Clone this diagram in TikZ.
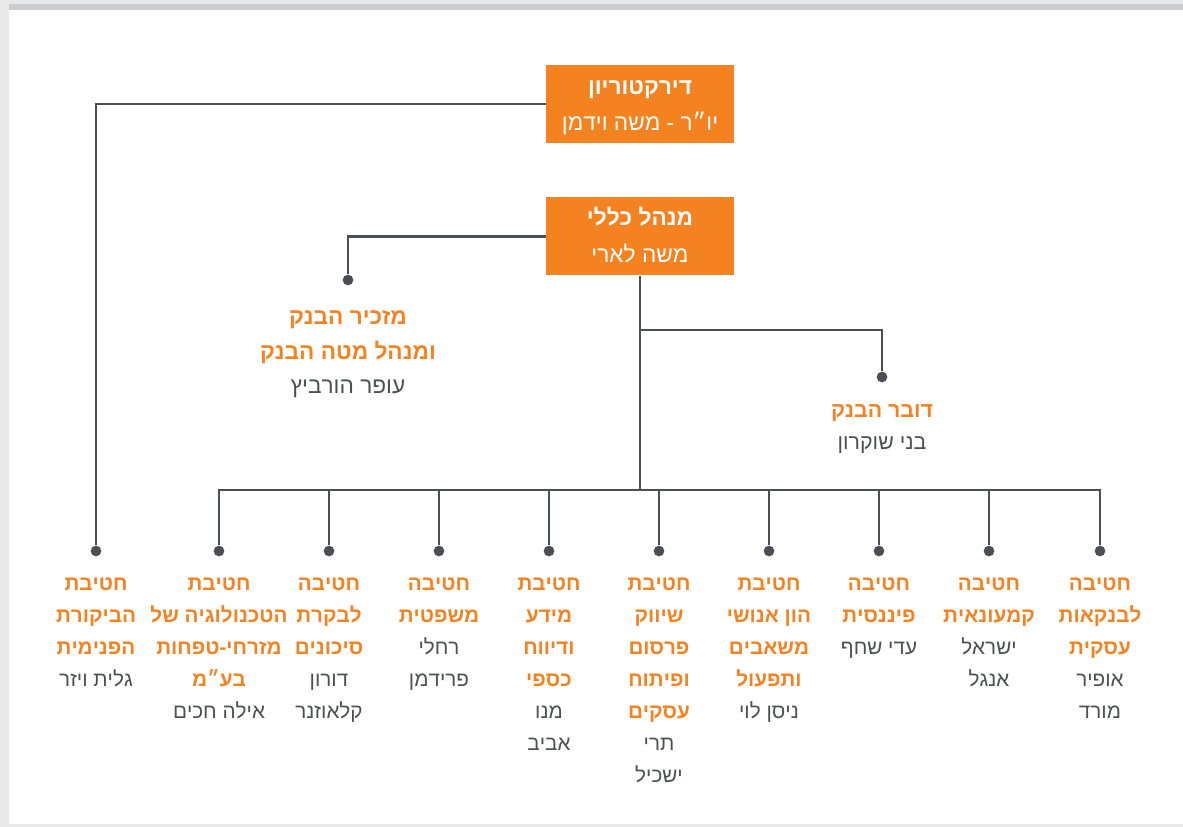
\documentclass[tikz,border=0pt]{standalone}
\usepackage{fontspec}
\setmainfont{Liberation Sans}
\TeXXeTstate=1
\definecolor{orng}{HTML}{F58220}
\definecolor{txt}{HTML}{4D4F53}
\definecolor{ln}{HTML}{4A4F55}
\definecolor{outer}{HTML}{E9E9E9}
\definecolor{strip}{HTML}{C9CDD0}
\newcommand\ot[1]{{\bfseries\color{orng}\beginR #1\endR}}
\newcommand\gt[1]{{\color{txt}\beginR #1\endR}}
\newcommand\wb[1]{{\bfseries\beginR #1\endR}}
\newcommand\wn[1]{{\beginR #1\endR}}
\tikzset{
  box/.style={fill=orng, minimum width=141pt, minimum height=58.5pt, inner sep=0pt},
  boxtxt/.style={anchor=base, text=white, inner sep=0pt, font=\fontsize{17}{27}\selectfont},
  conn/.style={draw=ln, line width=1.7pt},
  dot/.style={circle, fill=ln, inner sep=0pt, minimum size=8pt},
  lbl/.style={anchor=north, align=center, inner sep=0pt, font=\fontsize{15.5}{24}\selectfont},
}
\begin{document}
\begin{tikzpicture}[x=0.75pt,y=-0.75pt]
\useasboundingbox (0,0) rectangle (1183,827);
\fill[outer] (0,0) rectangle (1183,827);
\fill[white] (9,4) rectangle (1183,824);
\fill[strip] (9,4) rectangle (1183,10);

% boxes
\node[box] (dir) at (640,104) {};
\node[boxtxt] (dir1) at (640,95) {\wb{דירקטוריון}};
\node[boxtxt] (dir2) at (640,131) {\wn{יו״ר - משה וידמן}};
\node[box] (gm) at (640,236.5) {};
\node[boxtxt] (gm1) at (640,226) {\wb{מנהל כללי}};
\node[boxtxt] (gm2) at (640,263) {\wn{משה לארי}};

% dots
\node[dot] (d0) at (96,551) {};
\node[dot] (dsec) at (348,280) {};
\node[dot] (dspk) at (882,377) {};
\node[dot] (d1) at (219,551) {};
\node[dot] (d2) at (329,551) {};
\node[dot] (d3) at (439,551) {};
\node[dot] (d4) at (549,551) {};
\node[dot] (d5) at (659,551) {};
\node[dot] (d6) at (769,551) {};
\node[dot] (d7) at (879,551) {};
\node[dot] (d8) at (989,551) {};
\node[dot] (d9) at (1100,551) {};

\coordinate (br) at (640,330);
\coordinate (bus) at (640,490);
\coordinate (busL) at (219,490);
\coordinate (busR) at (1100,490);

% connectors
\draw[conn] (dir.west) -| (d0);
\draw[conn] (gm.west) -| (dsec);
\draw[conn] (gm.south) -- (bus);
\draw[conn] (br) -| (dspk);
\draw[conn, line cap=rect] (busL) -- (busR);
\foreach \d in {d1,d2,d3,d4,d5,d6,d7,d8,d9}{
  \draw[conn] (\d |- bus) -- (\d);
}

% labels
\node[lbl, font=\fontsize{17}{26}\selectfont] (sec) at (348,310) {\ot{מזכיר הבנק}\\\ot{ומנהל מטה הבנק}\\\gt{עופר הורביץ}};
\node[lbl, font=\fontsize{16}{24}\selectfont] (spk) at (882,404) {\ot{דובר הבנק}\\\gt{בני שוקרון}};

\node[lbl] (t0) at (96,577) {\ot{חטיבת}\\\ot{הביקורת}\\\ot{הפנימית}\\\gt{גלית ויזר}};
\node[lbl] (t1) at (219,577) {\ot{חטיבת}\\\ot{הטכנולוגיה של}\\\ot{מזרחי-טפחות}\\\ot{בע״מ}\\\gt{אילה חכים}};
\node[lbl] (t2) at (329,577) {\ot{חטיבה}\\\ot{לבקרת}\\\ot{סיכונים}\\\gt{דורון}\\\gt{קלאוזנר}};
\node[lbl] (t3) at (439,577) {\ot{חטיבה}\\\ot{משפטית}\\\gt{רחלי}\\\gt{פרידמן}};
\node[lbl] (t4) at (549,577) {\ot{חטיבת}\\\ot{מידע}\\\ot{ודיווח}\\\ot{כספי}\\\gt{מנו}\\\gt{אביב}};
\node[lbl] (t5) at (659,577) {\ot{חטיבת}\\\ot{שיווק}\\\ot{פרסום}\\\ot{ופיתוח}\\\ot{עסקים}\\\gt{תרי}\\\gt{ישכיל}};
\node[lbl] (t6) at (769,577) {\ot{חטיבת}\\\ot{הון אנושי}\\\ot{משאבים}\\\ot{ותפעול}\\\gt{ניסן לוי}};
\node[lbl] (t7) at (879,577) {\ot{חטיבה}\\\ot{פיננסית}\\\gt{עדי שחף}};
\node[lbl] (t8) at (989,577) {\ot{חטיבה}\\\ot{קמעונאית}\\\gt{ישראל}\\\gt{אנגל}};
\node[lbl] (t9) at (1100,577) {\ot{חטיבה}\\\ot{לבנקאות}\\\ot{עסקית}\\\gt{אופיר}\\\gt{מורד}};
\end{tikzpicture}
\end{document}
